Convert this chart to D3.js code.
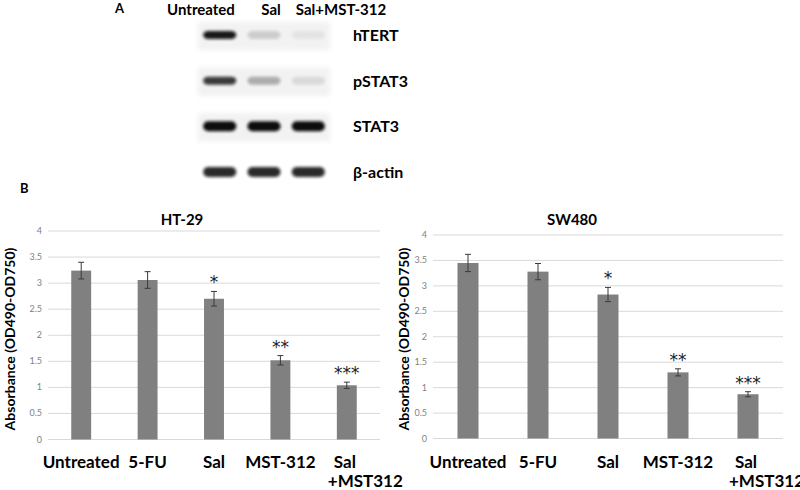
<!DOCTYPE html>
<html>
<head>
<meta charset="utf-8">
<script src="https://cdn.jsdelivr.net/npm/d3@7"></script>
<style>
  body { margin: 0; background: #fff; }
  svg { display: block; font-family: Lato, "Open Sans", "Liberation Sans", sans-serif; }
</style>
</head>
<body>
<svg id="fig" width="800" height="490"></svg>
<script>
// Panel A: western blot
const blotLanes = ["Untreated", "Sal", "Sal+MST-312"]
const blotProteins = ["hTERT", "pSTAT3", "STAT3", "β-actin"]
const blotIntensity = [
  [0.95, 0.16, 0.06],
  [0.8, 0.3, 0.1],
  [1, 1, 1],
  [0.88, 0.88, 0.88],
]

// Panel B: absorbance bar charts
const categories = ["Untreated", "5-FU", "Sal", "MST-312", "Sal+MST312"]
const categoryLabels = [["Untreated"], ["5-FU"], ["Sal"], ["MST-312"], ["Sal", "+MST312"]]
const ht29Values = [3.24, 3.06, 2.7, 1.52, 1.04]
const ht29Errors = [0.16, 0.16, 0.14, 0.09, 0.06]
const sw480Values = [3.45, 3.28, 2.83, 1.3, 0.87]
const sw480Errors = [0.17, 0.16, 0.14, 0.07, 0.05]
const significance = ["", "", "*", "**", "***"]
const yTicks = [0, 0.5, 1, 1.5, 2, 2.5, 3, 3.5, 4]
const yTickLabels = ["0", "0.5", "1", "1.5", "2", "2.5", "3", "3.5", "4"]

const svg = d3.select("#fig")
svg.append("rect").attr("width", 800).attr("height", 490).attr("fill", "#fff")

const defs = svg.append("defs")
defs.append("filter").attr("id", "blur").attr("x", "-20%").attr("y", "-80%").attr("width", "140%").attr("height", "260%")
  .append("feGaussianBlur").attr("stdDeviation", 1.4)
defs.append("filter").attr("id", "soft").attr("x", "-10%").attr("y", "-20%").attr("width", "120%").attr("height", "140%")
  .append("feGaussianBlur").attr("stdDeviation", 2)

// ---- panel A ----
svg.append("text").attr("x", 115).attr("y", 13).attr("font-size", 13).attr("font-weight", 700).text("A")

const lane = d3.scaleBand().domain(blotLanes).range([200, 328]).paddingInner(0.15).paddingOuter(0.02)
const header = d3.scalePoint().domain(blotLanes).range([201, 341])
const row = d3.scalePoint().domain(blotProteins).range([35, 172])

svg.append("g").selectAll("text").data(blotLanes).join("text")
  .attr("x", (d) => header(d)).attr("y", 15)
  .attr("text-anchor", "middle").attr("font-size", 15).attr("font-weight", 700)
  .text((d) => d)

const blot = svg.append("g")
blotProteins.forEach((p, i) => {
  const cy = row(p)
  if (i < 3) {
    blot.append("rect")
      .attr("x", lane.range()[0] - 2).attr("y", cy - 13)
      .attr("width", lane.range()[1] - lane.range()[0] + 4).attr("height", 28)
      .attr("fill", "#f2f2f2").attr("filter", "url(#soft)")
  }
  const h = i >= 2 ? 10 : 8
  blot.append("g").selectAll("rect").data(blotIntensity[i]).join("rect")
    .attr("x", (d, j) => lane(blotLanes[j]) + lane.bandwidth() * 0.06)
    .attr("width", lane.bandwidth() * 0.88)
    .attr("y", cy - h / 2).attr("height", h)
    .attr("rx", 5)
    .attr("fill", "#111")
    .attr("opacity", (d) => d)
    .attr("filter", "url(#blur)")
  blot.append("text").attr("x", 353).attr("y", cy + 6)
    .attr("font-size", 16).attr("font-weight", 700).text(p)
})

// ---- panel B ----
svg.append("text").attr("x", 20).attr("y", 193).attr("font-size", 13).attr("font-weight", 700).text("B")

function drawChart(opt) {
  const x = d3.scaleBand().domain(categories).range([opt.x0, opt.x1]).paddingInner(0.7).paddingOuter(0.35)
  const y = d3.scaleLinear().domain([0, 4]).range([opt.yBottom, opt.yTop])
  const g = svg.append("g")

  g.append("g").selectAll("line").data(yTicks).join("line")
    .attr("x1", opt.x0).attr("x2", opt.x1)
    .attr("y1", (d) => y(d)).attr("y2", (d) => y(d))
    .attr("stroke", "#d9d9d9").attr("stroke-width", 1)

  g.append("g").selectAll("text").data(yTicks).join("text")
    .attr("x", opt.x0 - 6).attr("y", (d) => y(d) + 3)
    .attr("text-anchor", "end").attr("font-size", 9).attr("fill", "#7f7f7f")
    .text((d, i) => yTickLabels[i])

  g.append("g").selectAll("rect").data(opt.values).join("rect")
    .attr("x", (d, i) => x(categories[i]))
    .attr("width", x.bandwidth())
    .attr("y", (d) => y(d)).attr("height", (d) => y(0) - y(d))
    .attr("fill", "#808080")

  const eb = g.append("g").attr("stroke", "#3a3a3a").attr("stroke-width", 1)
  opt.values.forEach((v, i) => {
    const cx = x(categories[i]) + x.bandwidth() / 2
    const hi = y(v + opt.errors[i]), lo = y(v - opt.errors[i])
    eb.append("line").attr("x1", cx).attr("x2", cx).attr("y1", hi).attr("y2", lo)
    eb.append("line").attr("x1", cx - 3).attr("x2", cx + 3).attr("y1", hi).attr("y2", hi)
    eb.append("line").attr("x1", cx - 3).attr("x2", cx + 3).attr("y1", lo).attr("y2", lo)
    if (significance[i]) {
      g.append("text").attr("x", cx).attr("y", hi - 3)
        .attr("text-anchor", "middle").attr("font-size", 17)
        .attr("font-family", "'DejaVu Sans', sans-serif")
        .attr("fill", "#222").text(significance[i])
    }
  })

  g.append("text").attr("x", opt.titleX).attr("y", 225)
    .attr("text-anchor", "middle").attr("font-size", 15).attr("font-weight", 700).text(opt.title)

  g.append("text").attr("transform", `translate(${opt.yTitleX},339) rotate(-90)`)
    .attr("text-anchor", "middle").attr("font-size", 14).attr("font-weight", 700)
    .text("Absorbance (OD490-OD750)")

  categoryLabels.forEach((lines, i) => {
    const cx = x(categories[i]) + x.bandwidth() / 2
    if (lines.length === 1) {
      g.append("text").attr("x", cx).attr("y", 468).attr("text-anchor", "middle")
        .attr("font-size", 17).attr("font-weight", 700).text(lines[0])
    } else {
      g.append("text").attr("x", cx - 13).attr("y", 468)
        .attr("font-size", 17).attr("font-weight", 700).text(lines[0])
      g.append("text").attr("x", cx - 19).attr("y", 487)
        .attr("font-size", 17).attr("font-weight", 700).text(lines[1])
    }
  })
}

drawChart({x0: 48, x1: 380, yBottom: 439.5, yTop: 231, values: ht29Values, errors: ht29Errors,
  title: "HT-29", titleX: 182, yTitleX: 15})
drawChart({x0: 433, x1: 783, yBottom: 438.5, yTop: 235, values: sw480Values, errors: sw480Errors,
  title: "SW480", titleX: 572, yTitleX: 409})
</script>
</body>
</html>
